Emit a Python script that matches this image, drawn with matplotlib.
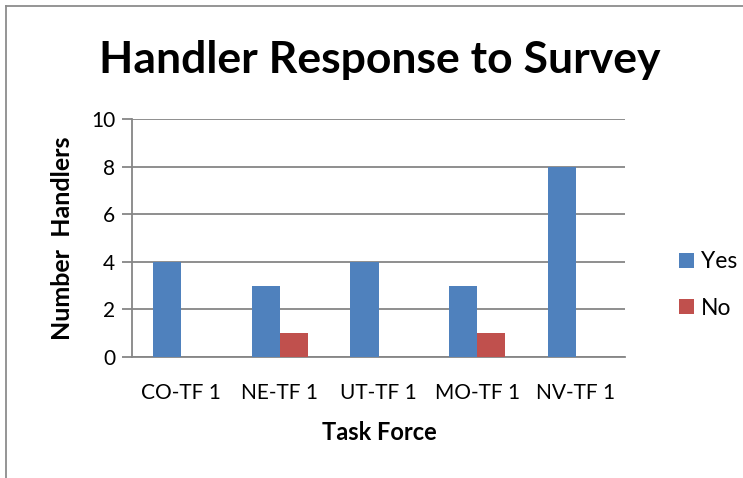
import numpy as np
import matplotlib.pyplot as plt
from matplotlib.lines import Line2D

# Data
Task_Forces = ["CO-TF 1", "NE-TF 1", "UT-TF 1", "MO-TF 1", "NV-TF 1"]
Yes_Counts = [4, 3, 4, 3, 8]
No_Counts = [0, 1, 0, 1, 0]

W, H = 743, 478
plt.rcParams['font.family'] = ['Lato', 'DejaVu Sans']

fig = plt.figure(figsize=(W / 100, H / 100), dpi=100)
ax = fig.add_axes([132 / W, 121 / H, 493 / W, 238 / H])

X = np.arange(len(Task_Forces))
Bar_W = 1 / 3.5                                   # Excel gap width 150%
ax.bar(X - Bar_W / 2, Yes_Counts, Bar_W, color='#4F81BD', label='Yes', zorder=3)
ax.bar(X + Bar_W / 2, No_Counts, Bar_W, color='#C0504D', label='No', zorder=3)

ax.set_xlim(-0.5, len(Task_Forces) - 0.5)
ax.set_ylim(0, 10)
ax.set_yticks(np.arange(0, 11, 2))
ax.set_xticks(X)
ax.set_xticklabels(Task_Forces)
ax.yaxis.grid(True, color='#868686', linewidth=1.3, zorder=0)
ax.tick_params(axis='y', length=7, width=1.3, color='#868686', pad=5, labelsize=15)
ax.tick_params(axis='x', length=0, pad=19, labelsize=15)
for s in ['top', 'right']:
    ax.spines[s].set_visible(False)
for s in ['left', 'bottom']:
    ax.spines[s].set_color('#868686')
    ax.spines[s].set_linewidth(1.3)

# Titles and labels
fig.text(380 / W, 1 - 60 / H, "Handler Response to Survey", ha='center', va='center',
         fontsize=32, fontweight='bold')
fig.text(62 / W, 1 - 238 / H, "Number  Handlers", ha='center', va='center',
         rotation=90, fontsize=18, fontweight='bold')
fig.text(379 / W, 1 - 433 / H, "Task Force", ha='center', va='center',
         fontsize=17, fontweight='bold')

ax.legend(loc='center left', bbox_to_anchor=(668 / W, 1 - 285 / H),
          bbox_transform=fig.transFigure, frameon=False, fontsize=16.5, borderpad=0,
          handlelength=0.65, handleheight=0.65, handletextpad=0.3, labelspacing=1.1)

# Chart border (left and top only visible)
fig.add_artist(Line2D([6 / W, 6 / W], [0, 1 - 6 / H], color='#8c8c8c', linewidth=1.3))
fig.add_artist(Line2D([6 / W, 1], [1 - 6 / H, 1 - 6 / H], color='#8c8c8c', linewidth=1.3))

plt.savefig("out.png", dpi=100)
